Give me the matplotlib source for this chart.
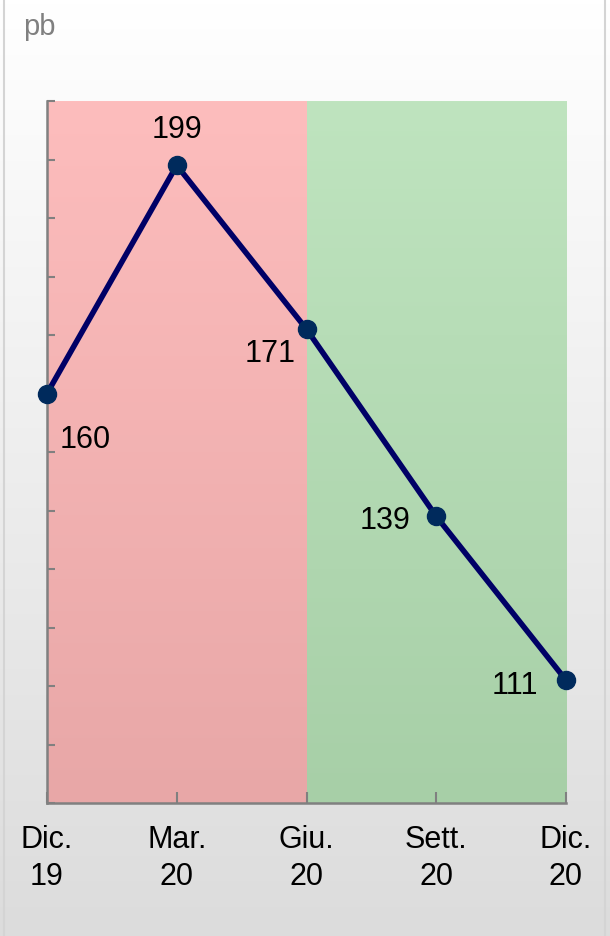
import numpy as np
import matplotlib.pyplot as plt
from matplotlib.colors import LinearSegmentedColormap

plt.rcParams['font.family'] = ['Liberation Sans', 'DejaVu Sans']

periods = ['Dic.\n19', 'Mar.\n20', 'Giu.\n20', 'Sett.\n20', 'Dic.\n20']
spread = [160, 199, 171, 139, 111]
# label offsets in pixels and alignment for each point
labelOffsets = [(38, -46, 'center'), (0, 35, 'center'), (-11, -25, 'right'), (-26, -5, 'right'), (-28, -6, 'right')]

fig = plt.figure(figsize=(6.1, 9.36), dpi=100)

# background gradient for the whole card
bg = fig.add_axes([0, 0, 1, 1], zorder=-2)
bgCmap = LinearSegmentedColormap.from_list('bg', ['#ffffff', '#dcdcdc'])
bg.imshow(np.linspace(0, 1, 256).reshape(-1, 1), cmap=bgCmap, aspect='auto', extent=[0, 1, 0, 1], origin='upper')
bg.plot([0.006, 0.006], [0, 1], color='#d4d4d4', lw=1.5)
bg.plot([0.992, 0.992], [0, 1], color='#d4d4d4', lw=1.5)
bg.set_xlim(0, 1)
bg.set_ylim(0, 1)
bg.axis('off')

ax = fig.add_axes([47/610, 1-803/936, (566-47)/610, (803-101)/936])
ax.set_facecolor('none')
yMin, yMax = 90, 210
x = np.arange(len(spread))

redCmap = LinearSegmentedColormap.from_list('red', ['#fdbdbd', '#e8a7a7'])
greenCmap = LinearSegmentedColormap.from_list('green', ['#bfe4bf', '#a7cfa7'])
grad = np.linspace(0, 1, 256).reshape(-1, 1)
ax.imshow(grad, cmap=redCmap, aspect='auto', extent=[0, 2, yMin, yMax], origin='upper', zorder=0)
ax.imshow(grad, cmap=greenCmap, aspect='auto', extent=[2, 4, yMin, yMax], origin='upper', zorder=0)

ax.plot(x, spread, color='#000066', lw=4, zorder=3, clip_on=False)
ax.plot(x, spread, 'o', color='#002a5c', markersize=13, zorder=4, clip_on=False)

for xi, val, (dx, dy, ha) in zip(x, spread, labelOffsets):
    ax.annotate(str(val), (xi, val), xytext=(dx, dy), textcoords='offset pixels',
                ha=ha, va='center', fontsize=22, color='black', zorder=5)

ax.set_xlim(0, 4)
ax.set_ylim(yMin, yMax)
ax.set_xticks(x)
ax.set_xticklabels(periods, fontsize=22, linespacing=1.3)
ax.set_yticks(np.arange(yMin, yMax + 1, 10))
ax.set_yticklabels([])
ax.tick_params(axis='y', direction='in', length=6, width=1.5, color='#808080', left=True)
ax.tick_params(axis='x', direction='in', length=8, width=1.5, color='#808080', pad=16)
for side in ['top', 'right']:
    ax.spines[side].set_visible(False)
for side in ['left', 'bottom']:
    ax.spines[side].set_color('#808080')
    ax.spines[side].set_linewidth(1.8)
    ax.spines[side].set_zorder(2)

fig.text(23/610, 1-27/936, 'pb', fontsize=21, color='#808080', ha='left', va='center')

fig.savefig('out.png', dpi=100)
